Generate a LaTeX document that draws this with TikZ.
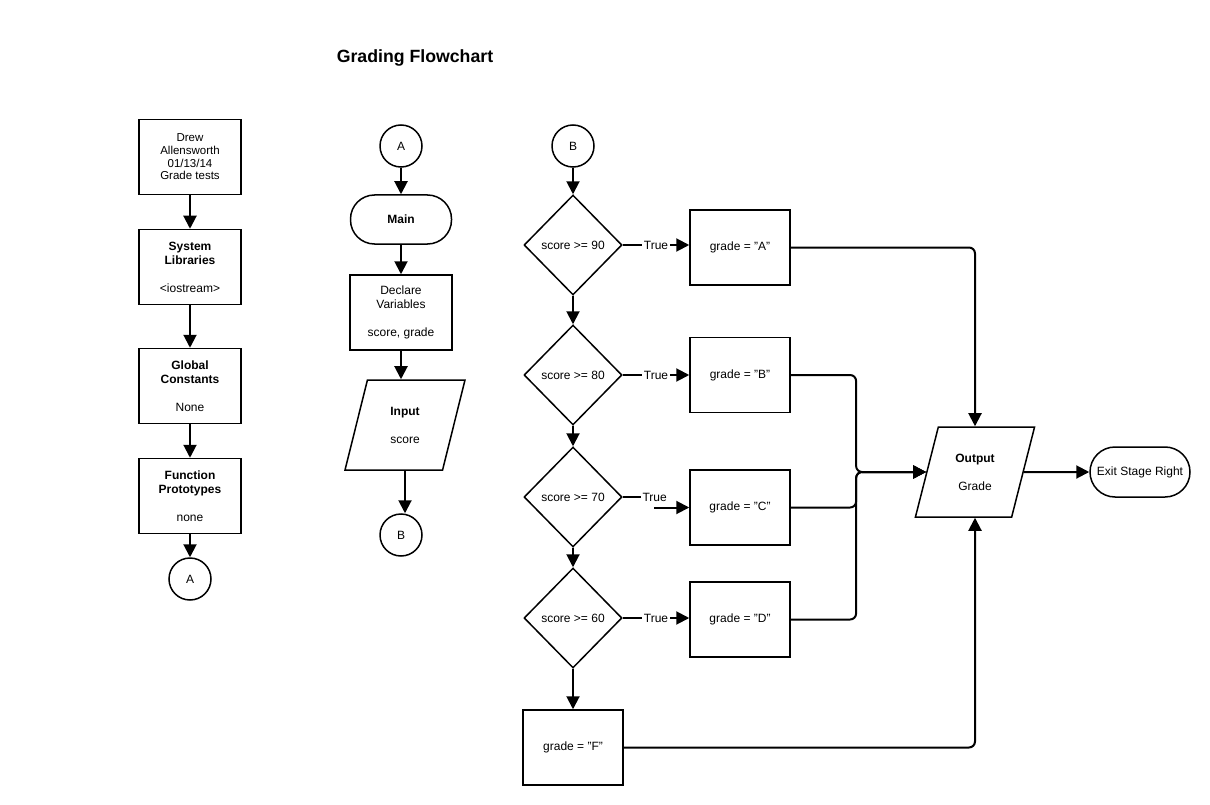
\documentclass[tikz,border=0pt]{standalone}
\usepackage{fontspec}
\setmainfont{Liberation Sans}
\usetikzlibrary{shapes.geometric,arrows.meta}

\begin{document}
\begin{tikzpicture}[x=1pt, y=-1pt, node distance=110pt, line width=1.5pt,
	font=\fontsize{12}{14}\selectfont,
	proc/.style = {draw, rectangle, minimum width=102pt, minimum height=75pt, align=center},
	term/.style = {draw, rectangle, rounded corners=24pt, minimum width=101pt, minimum height=49pt, align=center},
	conn/.style = {draw, circle, minimum size=42pt, inner sep=0pt},
	dec/.style = {draw, diamond, aspect=1, minimum width=98pt, minimum height=100pt, inner sep=0pt},
	io/.style = {draw, trapezium, trapezium left angle=76, trapezium right angle=104, trapezium stretches=true, minimum width=120pt, minimum height=90pt, align=center},
	arr/.style = {-{Triangle[length=13pt,width=13pt]}, line width=2pt},
	lbl/.style = {fill=white, inner sep=2pt}]
	\useasboundingbox (0,0) rectangle (1210,805);
	\node[font=\bfseries\fontsize{17.7}{20}\selectfont] (title) at (415,58) {Grading Flowchart};
	% header column
	\node[proc, font=\fontsize{11.5}{12.6}\selectfont] (info) at (190,157) {Drew\\Allensworth\\01/13/14\\Grade tests};
	\node[proc] (libs) [below of=info] {\textbf{System}\\\textbf{Libraries}\\[14pt]<iostream>};
	\node[proc] (consts) [below of=libs, node distance=119pt] {\textbf{Global}\\\textbf{Constants}\\[14pt]None};
	\node[proc] (protos) [below of=consts] {\textbf{Function}\\\textbf{Prototypes}\\[14pt]none};
	\node[conn] (a1) [below of=protos, node distance=83pt] {A};
	% main column
	\node[conn] (a2) at (401,146) {A};
	\node[term] (main) [below of=a2, node distance=73.5pt] {\textbf{Main}};
	\node[proc] (decl) [below of=main, node distance=93pt] {Declare\\Variables\\[14pt]score, grade};
	\node[io] (input) [below of=decl, node distance=112.5pt, xshift=4pt] {\textbf{Input}\\[14pt]score};
	\node[conn] (b1) [below of=input, node distance=110pt, xshift=-4pt] {B};
	% decisions
	\node[conn] (b2) at (573,146) {B};
	\node[dec] (d90) [below of=b2, node distance=99pt] {score >= 90};
	\node[dec] (d80) [below of=d90, node distance=130pt] {score >= 80};
	\node[dec] (d70) [below of=d80, node distance=122pt] {score >= 70};
	\node[dec] (d60) [below of=d70, node distance=121pt] {score >= 60};
	\node[proc, minimum width=100pt] (gF) [below of=d60, node distance=129.5pt] {grade = "F"};
	\node[proc, minimum width=100pt] (gA) [right of=d90, node distance=167pt, yshift=-2.5pt] {grade = "A"};
	\node[proc, minimum width=100pt] (gB) [right of=d80, node distance=167pt] {grade = "B"};
	\node[proc, minimum width=100pt] (gC) [right of=d70, node distance=167pt, yshift=-10.5pt] {grade = "C"};
	\node[proc, minimum width=100pt] (gD) [right of=d60, node distance=167pt, yshift=-1.5pt] {grade = "D"};
	\node[io, trapezium left angle=71.6, trapezium right angle=108.4] (out) at (975,472) {\textbf{Output}\\[14pt]Grade};
	\node[term, minimum width=100pt, minimum height=50pt, rounded corners=25pt, inner sep=1pt] (exit) [right of=out, node distance=165pt] {Exit Stage Right};
	% connectors
	\draw[arr] (info) -- (libs);
	\draw[arr] (libs) -- (consts);
	\draw[arr] (consts) -- (protos);
	\draw[arr] (protos) -- (a1);
	\draw[arr] (a2) -- (main);
	\draw[arr] (main) -- (decl);
	\draw[arr] (decl.south) -- (decl.south |- input.north);
	\draw[arr] (input.south) -- (input.south |- b1.north);
	\draw[arr] (b2) -- (d90);
	\draw[arr] (d90) -- (d80);
	\draw[arr] (d80) -- (d70);
	\draw[arr] (d70) -- (d60);
	\draw[arr] (d60) -- (gF);
	\draw[arr] (d90.east) -- node[lbl] {True} (d90.east -| gA.west);
	\draw[arr] (d80.east) -- node[lbl] {True} (d80.east -| gB.west);
	\draw (d70.east) -- ++(18,0) node[anchor=west, inner sep=1pt] (t70) {True};
	\draw[arr] ([xshift=-14pt]t70.east |- gC.west) -- (gC.west);
	\draw[arr] (d60.east) -- node[lbl] {True} (d60.east -| gD.west);
	\draw[arr, rounded corners=6pt] (gA.east) -| (out.north);
	\draw[arr, rounded corners=6pt] (gB.east) -| ([xshift=-70pt]out.west) -- (out.west);
	\draw[arr, rounded corners=6pt] (gC.east) -| ([xshift=-70pt]out.west) -- (out.west);
	\draw[arr, rounded corners=6pt] (gD.east) -| ([xshift=-70pt]out.west) -- (out.west);
	\draw[arr, rounded corners=6pt] (gF.east) -| (out.south);
	\draw[arr] (out.east) -- (exit.west);
\end{tikzpicture}
\end{document}
